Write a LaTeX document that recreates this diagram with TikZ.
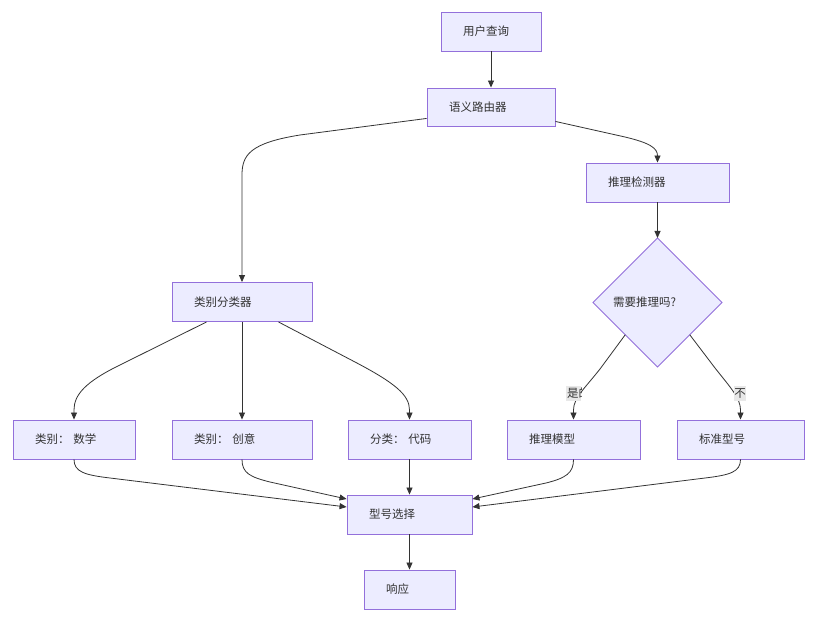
\documentclass[tikz,border=0pt]{standalone}
\usepackage{fontspec}
\setmainfont{Noto Sans CJK SC}
\usetikzlibrary{shapes.geometric,arrows.meta,calc}
\definecolor{nodefill}{HTML}{ECECFF}
\definecolor{nodeline}{HTML}{9370DB}
\definecolor{edgecol}{HTML}{333333}
\definecolor{lblbg}{HTML}{E8E8E8}
\begin{document}
\begin{tikzpicture}[x=1pt,y=-1pt,
  box/.style={draw=nodeline, fill=nodefill, line width=0.9pt, rectangle,
    inner xsep=22pt, inner ysep=0pt, minimum height=39pt, align=left,
    font=\fontsize{11.5}{14}\selectfont, text=edgecol},
  dia/.style={draw=nodeline, fill=nodefill, line width=0.9pt, diamond,
    minimum width=129pt, minimum height=129pt, inner sep=0pt, outer sep=0pt},
  conn/.style={draw=edgecol, line width=0.8pt, -{Triangle[length=7pt,width=6pt]}},
  lbl/.style={inner sep=0pt, font=\fontsize{11.5}{14}\selectfont, text=edgecol}]
\useasboundingbox[fill=white] (0,0) rectangle (816,636);

% nodes
\node[box, text width=56pt] (q) at (491,31.5) {用户查询};
\node[box, text width=84pt, minimum height=38pt] (r) at (491,107) {语义路由器};
\node[box, text width=99pt] (det) at (657.5,182.5) {推理检测器};
\node[dia] (d) at (657.5,302.5) {};
\node[lbl, anchor=west] (dt) at (613,302.5) {需要推理吗?};
\node[box, text width=96pt] (cls) at (242,302) {类别分类器};
\node[box, text width=78pt] (c1) at (74,439.5) {类别： 数学};
\node[box, text width=96pt] (c2) at (242,439.5) {类别： 创意};
\node[box, text width=79pt] (c3) at (409.5,439.5) {分类： 代码};
\node[box, text width=89pt] (m) at (573.5,439.5) {推理模型};
\node[box, text width=83pt] (s) at (740.5,439.5) {标准型号};
\node[box, text width=81pt] (sel) at (409.5,514.5) {型号选择};
\node[box, text width=47pt] (resp) at (409.5,589.5) {响应};

% connectors
\draw[conn] (q.south) -- (r.north);
\draw[conn] ($(r.south west)+(0,-8)$) -- (300,135) .. controls (250,143) and (242,155) .. (242,175) -- (cls.north);
\draw[conn] ($(r.south east)+(0,-5)$) -- (625,137) .. controls (650,143) and (657.5,148) .. (657.5,156) -- (det.north);
\draw[conn] (det.south) -- (d.north);
\draw[conn] ($(cls.south west)+(35,0)$) -- (120,365) .. controls (85,382) and (74,395) .. (74,410) -- (c1.north);
\draw[conn] (cls.south) -- (c2.north);
\draw[conn] ($(cls.south east)+(-34,0)$) -- (355,362) .. controls (395,383) and (409.5,395) .. (409.5,410) -- (c3.north);
\draw[conn] (d.south west) -- (600,369) .. controls (585,388) and (573.5,398) .. (573.5,410) -- (m.north);
\draw[conn] (d.south east) -- (715,368) .. controls (730,387) and (740.5,398) .. (740.5,410) -- (s.north);
\draw[conn] (c1.south) .. controls (74,472) and (85,475) .. (110,478) -- ($(sel.west)+(0,-7.5)$);
\draw[conn] (c2.south) .. controls (242,473) and (250,477) .. (270,482) -- ($(sel.west)+(0,-15.5)$);
\draw[conn] (c3.south) -- (sel.north);
\draw[conn] (m.south) .. controls (573.5,473) and (566,478) .. (546,483) -- ($(sel.east)+(0,-15.5)$);
\draw[conn] (s.south) .. controls (740.5,472) and (730,475) .. (705,478) -- ($(sel.east)+(0,-7.5)$);
\draw[conn] (sel.south) -- (resp.north);

% edge labels
\begin{scope}
  \clip (566,386) rectangle (581,401);
  \fill[lblbg] (566,386) rectangle (581,401);
  \node[lbl, anchor=west] (yes) at (567,393.5) {是的};
\end{scope}
\fill[lblbg] (734,386) rectangle (746,401);
\node[lbl] (no) at (740,393.5) {不};
\end{tikzpicture}
\end{document}
